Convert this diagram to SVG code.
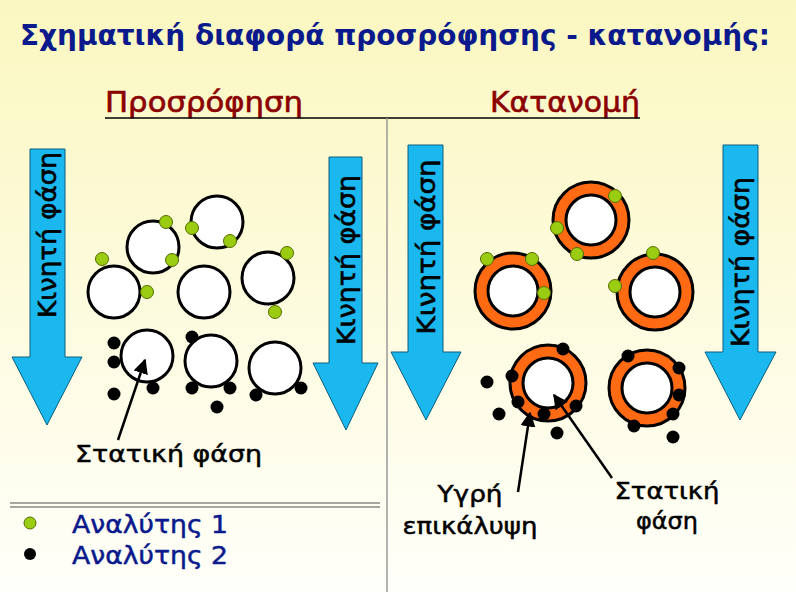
<svg xmlns="http://www.w3.org/2000/svg" width="796" height="592" viewBox="0 0 796 592">
<defs>
<linearGradient id="bg" x1="0" y1="0" x2="0" y2="1"><stop offset="0" stop-color="#fbf7c0"/><stop offset="1" stop-color="#fffffa"/></linearGradient>
<marker id="ah" viewBox="0 0 10 10" refX="9" refY="5" markerWidth="6" markerHeight="6" orient="auto"><path d="M0,0 L10,5 L0,10 z" fill="#000"/></marker>
</defs>
<style>
.p{fill:#fff;stroke:#000;stroke-width:3}
.r{fill:#ff6a13;stroke:#000;stroke-width:3}
.g{fill:#9acd12;stroke:#556b00;stroke-width:1}
.b{fill:#000}
.ar{fill:#1ab8ee;stroke:#0b5f80;stroke-width:1}
.vt{font-family:"DejaVu Sans",sans-serif;font-size:24px;fill:#000;stroke:#000;stroke-width:0.6}
.lb{font-family:"DejaVu Sans",sans-serif;font-size:23px;fill:#000;stroke:#000;stroke-width:0.5}
.cn{stroke:#000;stroke-width:2.5;fill:none;marker-end:url(#ah)}
.lg{font-family:"DejaVu Sans",sans-serif;font-size:25px;fill:#0a1a8c;stroke:#0a1a8c;stroke-width:0.5}
</style>
<rect width="796" height="592" fill="url(#bg)"/>
<text x="20" y="45" font-family="DejaVu Sans,sans-serif" font-size="28" font-weight="bold" fill="#0a1a8c" textLength="750" lengthAdjust="spacingAndGlyphs">Σχηματική διαφορά προσρόφησης - κατανομής:</text>
<text x="105" y="112" font-family="DejaVu Sans,sans-serif" font-size="28" fill="#8b0000" stroke="#8b0000" stroke-width="0.6" textLength="198" lengthAdjust="spacingAndGlyphs">Προσρόφηση</text>
<text x="490" y="112" font-family="DejaVu Sans,sans-serif" font-size="28" fill="#8b0000" stroke="#8b0000" stroke-width="0.6" textLength="150" lengthAdjust="spacingAndGlyphs">Κατανομή</text>
<line x1="105" y1="118" x2="640" y2="118" stroke="#000" stroke-width="1.5"/>
<line x1="387" y1="118" x2="387" y2="592" stroke="#999" stroke-width="1.5"/>
<line x1="10" y1="503" x2="380" y2="503" stroke="#888" stroke-width="1.5"/>
<line x1="10" y1="507" x2="380" y2="507" stroke="#888" stroke-width="1.5"/>

<g id="arrows">
<path class="ar" d="M30,149 H65 V357 H82 L47,425 L12,357 H30 Z"/>
<path class="ar" d="M329,157 H362 V363 H378 L346,430 L313,363 H329 Z"/>
<path class="ar" d="M408,145 H443 V352 H461 L426,420 L391,352 H408 Z"/>
<path class="ar" d="M723,145 H758 V352 H776 L740,420 L705,352 H723 Z"/>
<text class="vt" transform="translate(56,235) rotate(-90)" text-anchor="middle" textLength="166" lengthAdjust="spacingAndGlyphs">Κινητή φάση</text>
<text class="vt" transform="translate(355,260) rotate(-90)" text-anchor="middle" textLength="170" lengthAdjust="spacingAndGlyphs">Κινητή φάση</text>
<text class="vt" transform="translate(435,247) rotate(-90)" text-anchor="middle" textLength="175" lengthAdjust="spacingAndGlyphs">Κινητή φάση</text>
<text class="vt" transform="translate(749,262) rotate(-90)" text-anchor="middle" textLength="170" lengthAdjust="spacingAndGlyphs">Κινητή φάση</text>
</g>

<g id="adsorption">
<circle class="p" cx="153" cy="247" r="26"/><circle class="p" cx="217" cy="222" r="26"/>
<circle class="p" cx="114" cy="292" r="26"/><circle class="p" cx="204" cy="292" r="26"/>
<circle class="p" cx="268" cy="278" r="26"/><circle class="p" cx="147" cy="356" r="26"/>
<circle class="p" cx="211" cy="361" r="26"/><circle class="p" cx="275" cy="368" r="26"/>
<circle class="g" cx="166" cy="222" r="6.5"/><circle class="g" cx="172" cy="260" r="6.5"/>
<circle class="g" cx="192" cy="228" r="6.5"/><circle class="g" cx="230" cy="241" r="6.5"/>
<circle class="g" cx="102" cy="259" r="6.5"/><circle class="g" cx="147" cy="292" r="6.5"/>
<circle class="g" cx="287" cy="253" r="6.5"/><circle class="g" cx="275" cy="312" r="6.5"/>
<circle class="b" cx="114" cy="343" r="6.5"/><circle class="b" cx="114" cy="362" r="6.5"/>
<circle class="b" cx="114" cy="394" r="6.5"/><circle class="b" cx="153" cy="388" r="6.5"/>
<circle class="b" cx="192" cy="337" r="6.5"/><circle class="b" cx="192" cy="388" r="6.5"/>
<circle class="b" cx="230" cy="388" r="6.5"/><circle class="b" cx="217" cy="407" r="6.5"/>
<circle class="b" cx="256" cy="395" r="6.5"/><circle class="b" cx="301" cy="388" r="6.5"/>
</g>

<g id="partition">
<circle class="r" cx="591" cy="220" r="38"/><circle class="p" cx="591" cy="220" r="25"/>
<circle class="r" cx="513" cy="291" r="38"/><circle class="p" cx="513" cy="291" r="25"/>
<circle class="r" cx="655" cy="292" r="38"/><circle class="p" cx="655" cy="292" r="25"/>
<circle class="r" cx="548" cy="383" r="38"/><circle class="p" cx="548" cy="383" r="25"/>
<circle class="r" cx="647" cy="388" r="38"/><circle class="p" cx="647" cy="388" r="25"/>
<circle class="g" cx="615" cy="196" r="6.5"/><circle class="g" cx="557" cy="228" r="6.5"/>
<circle class="g" cx="577" cy="254" r="6.5"/><circle class="g" cx="487" cy="259" r="6.5"/>
<circle class="g" cx="532" cy="259" r="6.5"/><circle class="g" cx="544" cy="293" r="6.5"/>
<circle class="g" cx="653" cy="253" r="6.5"/><circle class="g" cx="615" cy="286" r="6.5"/>
<circle class="b" cx="563" cy="349" r="6.5"/><circle class="b" cx="512" cy="376" r="6.5"/>
<circle class="b" cx="518" cy="402" r="6.5"/><circle class="b" cx="544" cy="414" r="6.5"/>
<circle class="b" cx="576" cy="406" r="6.5"/><circle class="b" cx="487" cy="382" r="6.5"/>
<circle class="b" cx="499" cy="414" r="6.5"/><circle class="b" cx="557" cy="433" r="6.5"/>
<circle class="b" cx="628" cy="356" r="6.5"/><circle class="b" cx="679" cy="368" r="6.5"/>
<circle class="b" cx="679" cy="395" r="6.5"/><circle class="b" cx="673" cy="414" r="6.5"/>
<circle class="b" cx="634" cy="426" r="6.5"/><circle class="b" cx="673" cy="437" r="6.5"/>
</g>

<g id="connectors">
<line class="cn" x1="118" y1="440" x2="145" y2="360"/>
<line class="cn" x1="518" y1="492" x2="530" y2="413"/>
<line class="cn" x1="612" y1="478" x2="554" y2="395"/>
</g>

<g id="labels">
<text class="lb" x="75" y="462" font-size="25" textLength="187" lengthAdjust="spacingAndGlyphs">Στατική φάση</text>
<text class="lb" x="470" y="502" text-anchor="middle" textLength="65" lengthAdjust="spacingAndGlyphs">Υγρή</text>
<text class="lb" x="470" y="534" text-anchor="middle" textLength="135" lengthAdjust="spacingAndGlyphs">επικάλυψη</text>
<text class="lb" x="667" y="499" text-anchor="middle" textLength="105" lengthAdjust="spacingAndGlyphs">Στατική</text>
<text class="lb" x="667" y="529" text-anchor="middle" textLength="62" lengthAdjust="spacingAndGlyphs">φάση</text>
</g>

<g id="legend">
<circle cx="30" cy="523" r="6" fill="#9acd12" stroke="#556b00"/>
<circle cx="30" cy="554" r="6" fill="#000"/>
<text class="lg" x="72" y="533" textLength="156" lengthAdjust="spacingAndGlyphs">Αναλύτης 1</text>
<text class="lg" x="72" y="564" textLength="156" lengthAdjust="spacingAndGlyphs">Αναλύτης 2</text>
</g>
</svg>
